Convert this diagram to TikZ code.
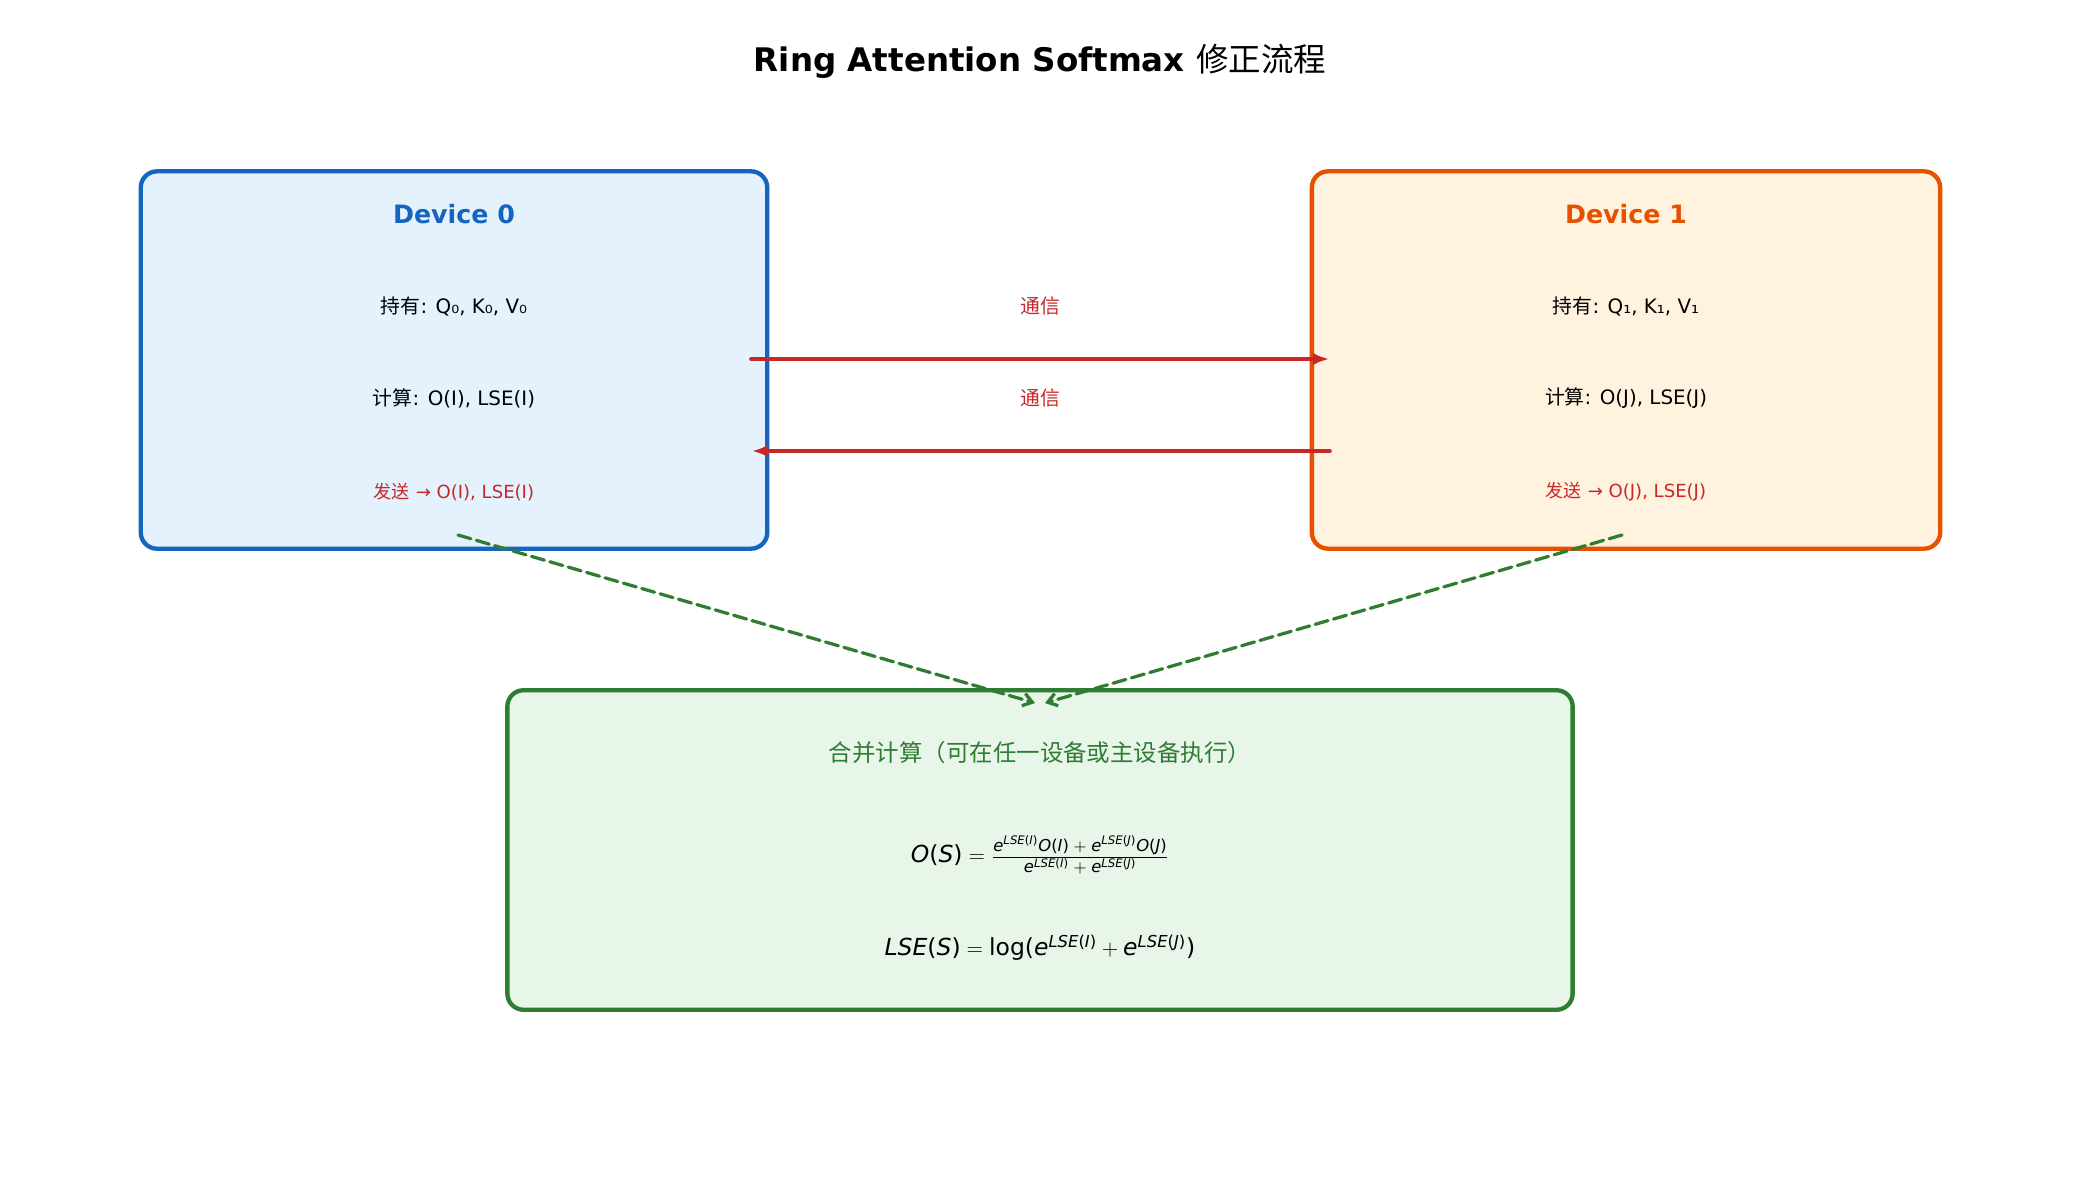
\documentclass[tikz,border=0pt]{standalone}
\usepackage{amsmath}
\usepackage{fontspec}
\setmainfont{DejaVu Sans}
\newfontfamily\cjk{Noto Sans CJK SC}
\usetikzlibrary{arrows.meta}

\definecolor{devblue}{HTML}{1565C0}
\definecolor{devbluebg}{HTML}{E3F2FD}
\definecolor{devorange}{HTML}{E65100}
\definecolor{devorangebg}{HTML}{FFF3E0}
\definecolor{mergegreen}{HTML}{2E7D32}
\definecolor{mergegreenbg}{HTML}{E8F5E9}
\definecolor{commred}{HTML}{C62828}

% italic letters in the text font, so the formulas stay sans
\newcommand{\mi}[1]{\textit{#1}}
\newcommand{\Fn}[2]{\mi{#1}\textup{(}\mi{#2}\textup{)}}
\newcommand{\Ex}[1]{\mi{e}^{\Fn{LSE}{#1}}}

\begin{document}
\begin{tikzpicture}[x=0.55385pt, y=-0.55385pt, line cap=round, line join=round,
    box/.style={draw, rounded corners=9pt, line width=2.4pt, inner sep=0pt},
    devtitle/.style={font=\fontsize{14}{16}\selectfont\bfseries},
    infoline/.style={font=\fontsize{11}{13}\selectfont},
    sendline/.style={font=\fontsize{10}{12}\selectfont, text=commred},
    commarrow/.style={-{Latex[length=9pt,width=7pt]}, line width=2pt, draw=commred},
    mergearrow/.style={-{Straight Barb[length=5pt,width=7pt]}, line width=1.8pt,
      draw=mergegreen, dash pattern=on 7.4pt off 3.2pt}]
        \def\xA{454} \def\xB{1626}

        % Achtergrond
        \useasboundingbox (0,0) rectangle (2080,1180);
        \fill[white] (0,0) rectangle (2080,1180);

        % Titel
        \node[font=\fontsize{18}{21}\selectfont\bfseries] (title) at (1040,61)
          {Ring Attention Softmax {\cjk\mdseries 修正流程}};

        % Device 0
        \node[box, draw=devblue, fill=devbluebg, minimum width=347pt, minimum height=209pt] (dev0) at (\xA,360) {};
        \node[devtitle, text=devblue] (dev0name) at (\xA,214) {Device 0};
        \node[infoline] (dev0hold) at (\xA,306) {{\cjk 持有}: Q₀, K₀, V₀};
        \node[infoline] (dev0calc) at (\xA,398) {{\cjk 计算}: O(I), LSE(I)};
        \node[sendline] (dev0send) at (\xA,492) {{\cjk 发送} → O(I), LSE(I)};

        % Device 1
        \node[box, draw=devorange, fill=devorangebg, minimum width=348pt, minimum height=209pt] (dev1) at (\xB,360) {};
        \node[devtitle, text=devorange] (dev1name) at (\xB,214) {Device 1};
        \node[infoline] (dev1hold) at (\xB,306) {{\cjk 持有}: Q₁, K₁, V₁};
        \node[infoline] (dev1calc) at (\xB,398) {{\cjk 计算}: O(J), LSE(J)};
        \node[sendline] (dev1send) at (\xB,492) {{\cjk 发送} → O(J), LSE(J)};

        % Communicatie
        \coordinate (d0out) at (751,359);
        \coordinate (d1in) at (1329,359);
        \coordinate (d1out) at (1330,451);
        \coordinate (d0in) at (752,451);
        \node[font=\fontsize{11}{13}\selectfont\cjk, text=commred] (comm1) at (1040,306) {通信};
        \node[font=\fontsize{11}{13}\selectfont\cjk, text=commred] (comm2) at (1040,398) {通信};
        \draw[commarrow] (d0out) -- (d1in);
        \draw[commarrow] (d1out) -- (d0in);

        % Samenvoegen
        \node[box, draw=mergegreen, fill=mergegreenbg, minimum width=590pt, minimum height=177pt] (merge) at (1040,850) {};
        \node[font=\fontsize{13}{15}\selectfont\cjk, text=mergegreen] (mergetitle) at (1040,753)
          {合并计算（可在任一设备或主设备执行）};
        \node[font=\fontsize{13}{15}\selectfont] (mergeO) at (1040,856)
          {$\Fn{O}{S} = \frac{\mathstrut\Ex{I}\Fn{O}{I} \;+\; \Ex{J}\Fn{O}{J}}{\mathstrut\Ex{I} \;+\; \Ex{J}}$};
        \node[font=\fontsize{13}{15}\selectfont] (mergeLSE) at (1040,948)
          {$\Fn{LSE}{S} = \textup{log(}\Ex{I} + \Ex{J}\textup{)}$};

        % Gestippelde pijlen naar de samenvoeging
        \coordinate (d0down) at (458,535);
        \coordinate (d1down) at (1622,535);
        \coordinate (mergeinL) at (1035,703);
        \coordinate (mergeinR) at (1045,703);
        \draw[mergearrow] (d0down) -- (mergeinL);
        \draw[mergearrow] (d1down) -- (mergeinR);
\end{tikzpicture}
\end{document}
